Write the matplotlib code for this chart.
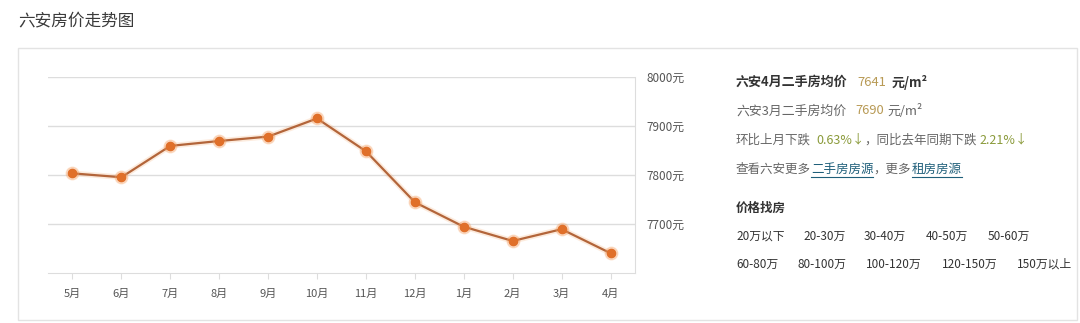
import matplotlib
matplotlib.use("Agg")
import matplotlib.pyplot as plt
from matplotlib.patches import Rectangle

plt.rcParams['font.family'] = ['Noto Sans CJK SC', 'DejaVu Sans']

months = ["5月", "6月", "7月", "8月", "9月", "10月", "11月", "12月", "1月", "2月", "3月", "4月"]
prices = [7804, 7796, 7860, 7870, 7879, 7916, 7849, 7745, 7695, 7666, 7690, 7641]
yticks = [7700, 7800, 7900, 8000]
ylabels = [f"{v}元" for v in yticks]

title = "六安房价走势图"
cur_label, cur_price = "六安4月二手房均价", "7641"
prev_label, prev_price = "六安3月二手房均价", "7690"
mom, yoy = "0.63%↓", "2.21%↓"
ranges_row1 = ["20万以下", "20-30万", "30-40万", "40-50万", "50-60万"]
ranges_row2 = ["60-80万", "80-100万", "100-120万", "120-150万", "150万以上"]

W, H = 1080, 323
fig = plt.figure(figsize=(W / 100, H / 100), dpi=100)

def px(x, y):
    return x / W, 1 - y / H

# outer panel
fig.patches.append(Rectangle(px(18, 320), (1077 - 18) / W, (320 - 48) / H,
                             transform=fig.transFigure, fill=False,
                             edgecolor="#e3e3e3", lw=1))
fig.text(*px(18, 21), title, fontsize=12, color="#3a3a3a", va="center")

# chart
l, r, t, b = 48, 635, 77.3, 273.3
ax = fig.add_axes([l / W, 1 - b / H, (r - l) / W, (b - t) / H])
x = list(range(len(months)))
ax.plot(x, prices, color="#f7b07a", lw=4, alpha=0.25, solid_capstyle="round")
ax.plot(x, prices, color="#b3653a", lw=1.6, zorder=3)
ax.plot(x, prices, ls="none", marker="o", ms=9, color="#f7a060", alpha=0.3, zorder=4)
ax.plot(x, prices, ls="none", marker="o", ms=6, color="#e0702a", zorder=5)
ax.set_xlim(-0.5, len(months) - 0.5)
ax.set_ylim(7600, 8000)
ax.set_xticks(x)
ax.set_xticklabels(months, fontsize=8, color="#555555")
ax.yaxis.tick_right()
ax.set_yticks(yticks)
ax.set_yticklabels(ylabels, fontsize=8.5, color="#555555")
ax.tick_params(axis="y", length=0, pad=8)
ax.tick_params(axis="x", length=4, color="#dddddd", pad=7)
ax.grid(axis="y", color="#dddddd", lw=1)
for s in ["left", "top"]:
    ax.spines[s].set_visible(False)
ax.spines["right"].set_color("#dddddd")
ax.spines["bottom"].set_color("#dddddd")

# info panel
dark, gray, gold, green, link = "#333333", "#666666", "#b89a55", "#8a9a3a", "#1f5f7a"
fs = 9
fig.text(*px(736, 82), cur_label, fontsize=9.4, color=dark, weight="bold", va="center")
fig.text(*px(857, 82), cur_price, fontsize=9.4, color=gold, va="center")
fig.text(*px(892, 82), "元/m²", fontsize=9.4, color=dark, weight="bold", va="center")
fig.text(*px(736, 111), prev_label, fontsize=9.3, color=gray, va="center")
fig.text(*px(855, 111), prev_price, fontsize=9.3, color=gold, va="center")
fig.text(*px(887, 111), "元/m²", fontsize=9.3, color=gray, va="center")
fig.text(*px(736, 140), "环比上月下跌", fontsize=fs, color=gray, va="center")
fig.text(*px(816, 140), mom, fontsize=fs, color=green, va="center")
fig.text(*px(864, 140), "，同比去年同期下跌", fontsize=fs, color=gray, va="center")
fig.text(*px(979, 140), yoy, fontsize=fs, color=green, va="center")
fig.text(*px(736, 169), "查看六安更多", fontsize=fs, color=gray, va="center")
fig.text(*px(811, 169), "二手房房源", fontsize=fs, color=link, va="center")
fig.text(*px(873, 169), "，更多", fontsize=fs, color=gray, va="center")
fig.text(*px(912, 169), "租房房源", fontsize=fs, color=link, va="center")
for x0, x1 in [(811, 873), (912, 962)]:
    fig.add_artist(plt.Line2D([x0 / W, x1 / W], [1 - 177 / H] * 2, color=link, lw=0.8))
fig.text(*px(736, 208), "价格找房", fontsize=fs, color=dark, weight="bold", va="center")
for xs, row, yy in [([736, 803, 864, 926, 988], ranges_row1, 236),
                    ([736, 798, 866, 942, 1017], ranges_row2, 264)]:
    for xx, s in zip(xs, row):
        fig.text(*px(xx, yy), s, fontsize=8.5, color=dark, va="center")

fig.savefig("out.png", dpi=100)
